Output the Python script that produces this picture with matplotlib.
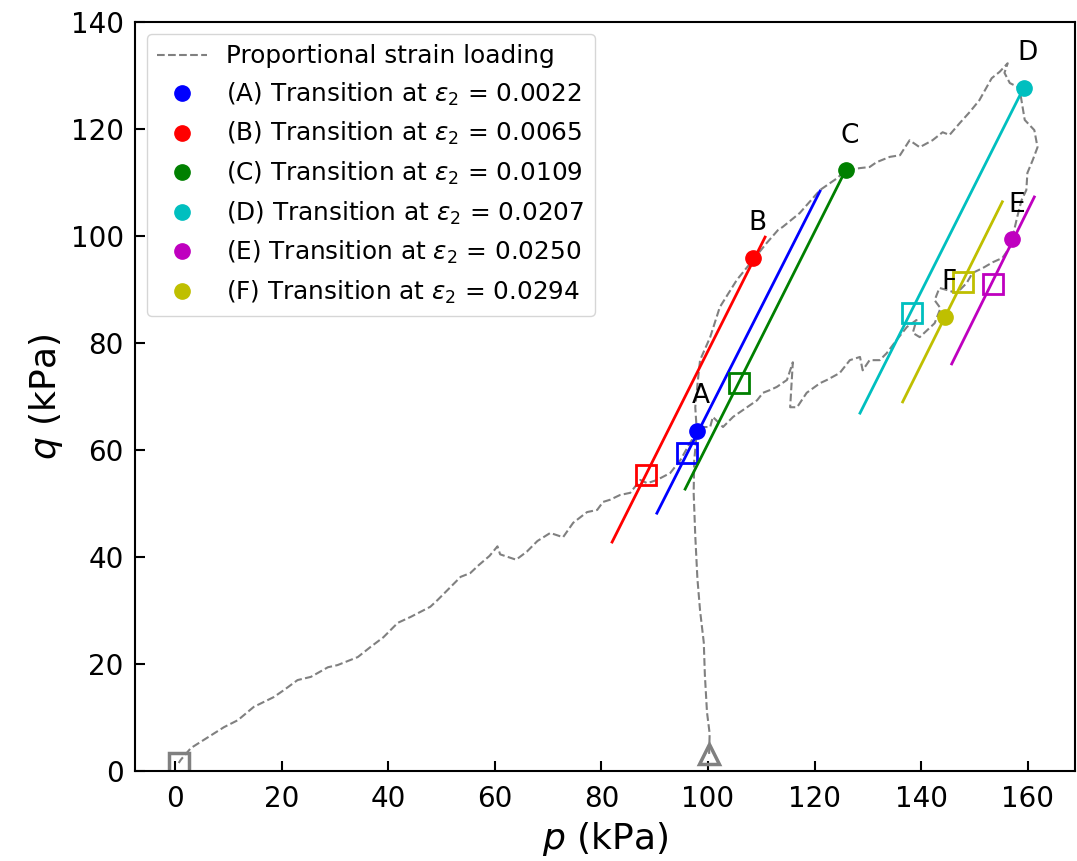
import matplotlib
matplotlib.use("Agg")
import matplotlib.pyplot as plt

# stress path (start at triangle, end at square)
p_path = [100.2, 100.3, 99.8, 99.4, 99.2, 98.5, 98.0, 97.6, 97.3, 97.4, 97.9,
          97.6, 98.1, 98.5, 100.4, 102.2, 105.4, 108.4, 111.0, 113.1, 114.0, 117.2,
          121.0, 124.2, 125.8, 128.5, 130.3, 131.6, 134.1, 136.0, 137.8, 139.7, 142.1,
          144.0, 145.3, 147.2, 149.1, 150.9, 153.2, 154.7, 156.2, 155.6, 156.6, 158.4,
          159.0, 159.4, 161.2, 161.8, 160.9, 159.9, 159.7, 158.8, 158.0, 157.3, 156.6,
          155.2, 153.4, 151.5, 149.6, 148.5, 146.6, 145.2, 143.4, 142.5, 143.6, 142.5,
          139.7, 138.4, 139.1, 137.3, 135.4, 133.5, 132.2, 130.3, 129.0, 128.5, 126.6,
          124.7, 122.3, 121.0, 118.5, 116.7, 115.4, 115.9, 114.8, 112.9, 111.6, 110.3,
          109.2, 107.3, 104.7, 102.8, 100.9, 100.4, 98.5, 96.6, 94.8, 92.9, 90.4, 88.6,
          87.3, 85.4, 83.5, 81.6, 80.3, 79.2, 77.3, 74.7, 72.8, 70.4, 68.0, 66.0, 64.0,
          62.5, 61.0, 60.5, 59.0, 57.0, 55.4, 53.6, 51.1, 49.3, 47.9, 44.2, 41.8, 39.1,
          36.7, 34.3, 30.5, 28.7, 25.5, 23.0, 20.4, 18.5, 14.8, 11.8, 9.2, 5.4, 3.0,
          1.1, 0.7]
q_path = [3.2, 7.0, 11.0, 18.0, 24.0, 30.0, 36.0, 44.0, 52.0, 58.0, 63.4,
          68.0, 73.1, 76.8, 81.1, 86.7, 91.8, 95.5, 98.7, 101.1, 101.7, 104.3,
          108.6, 110.8, 112.3, 112.7, 112.9, 113.8, 114.8, 115.1, 117.9, 116.6, 117.9,
          119.4, 118.9, 121.1, 123.2, 125.4, 129.5, 130.7, 132.3, 130.5, 128.6, 127.7,
          124.1, 121.7, 119.8, 116.6, 114.2, 111.8, 108.6, 106.7, 103.6, 100.6, 97.9,
          95.9, 95.1, 94.0, 93.1, 91.2, 89.3, 89.8, 90.3, 88.0, 86.5, 83.7,
          81.1, 81.9, 84.3, 83.0, 80.6, 78.1, 76.8, 76.8, 74.9, 77.4, 76.8,
          74.4, 73.1, 72.5, 70.7, 68.0, 68.0, 76.4, 73.1, 71.8, 71.2, 70.7,
          69.3, 68.0, 66.2, 64.3, 66.2, 64.3, 64.3, 61.3, 58.1, 55.7, 54.4, 53.8,
          54.4, 52.0, 51.6, 50.7, 50.3, 48.8, 48.4, 46.4, 43.7, 44.5, 43.0, 41.0, 39.5,
          40.0, 40.5, 42.0, 40.2, 38.5, 37.0, 36.3, 33.8, 32.0, 30.7, 28.8, 27.7, 25.0,
          23.2, 21.3, 19.8, 19.4, 17.6, 17.0, 15.1, 13.8, 12.0, 9.5, 8.2, 5.8, 4.3,
          2.1, 1.5]

# transitions A-F
names = ['A', 'B', 'C', 'D', 'E', 'F']
strains = ['0.0022', '0.0065', '0.0109', '0.0207', '0.0250', '0.0294']
colors = ['b', 'r', 'g', 'c', 'm', 'y']
p_trans = [97.9, 108.4, 125.8, 159.2, 157.1, 144.4]
q_trans = [63.6, 95.9, 112.3, 127.7, 99.4, 84.9]
# end points of the branch lines
p_line_lo = [90.4, 82.0, 95.7, 128.5, 145.7, 136.5]
q_line_lo = [48.2, 42.8, 52.7, 66.9, 76.1, 69.0]
p_line_hi = [121.0, 110.7, 125.8, 159.2, 161.2, 155.2]
q_line_hi = [108.4, 99.8, 112.3, 127.7, 107.3, 106.4]
# square markers on each branch
p_sq = [96.1, 88.4, 105.8, 138.2, 153.4, 147.9]
q_sq = [59.4, 55.3, 72.5, 85.6, 91.0, 91.4]

fig = plt.figure(figsize=(10.77, 8.61), dpi=100)
ax = fig.add_axes([0.1253, 0.1045, 0.8727, 0.8699])

ax.plot(p_path, q_path, '--', color='gray', lw=1.5, label='Proportional strain loading')
ax.plot(p_path[0], q_path[0], '^', color='gray', ms=14, mfc='none', mew=2.5)
ax.plot(p_path[-1], q_path[-1], 's', color='gray', ms=15, mfc='none', mew=2.5)

for i in range(6):
    ax.plot([p_line_lo[i], p_line_hi[i]], [q_line_lo[i], q_line_hi[i]], '-',
            color=colors[i], lw=2)
    ax.plot(p_sq[i], q_sq[i], 's', color=colors[i], ms=15, mfc='none', mew=2)
    ax.plot(p_trans[i], q_trans[i], 'o', color=colors[i], ms=11, ls='none',
            label=r'(%s) Transition at $\varepsilon_2$ = %s' % (names[i], strains[i]))
    ax.annotate(names[i], (p_trans[i], q_trans[i]), xytext=(3, 25),
                textcoords='offset points', ha='center', va='center', fontsize=19)

ax.set_xlim(-7.5, 168.8)
ax.set_ylim(0, 140)
ax.set_xticks(range(0, 161, 20))
ax.set_yticks(range(0, 141, 20))
ax.tick_params(direction='in', length=7, width=1.5, labelsize=20)
ax.tick_params(axis='x', pad=10)
ax.tick_params(axis='y', pad=8)
for s in ax.spines.values():
    s.set_linewidth(1.5)
ax.set_xlabel(r'$p$ (kPa)', fontsize=26, labelpad=5)
ax.set_ylabel(r'$q$ (kPa)', fontsize=26)
ax.legend(loc='upper left', fontsize=17.8, numpoints=1, handlelength=2.0)

fig.savefig('out.png', dpi=100)
